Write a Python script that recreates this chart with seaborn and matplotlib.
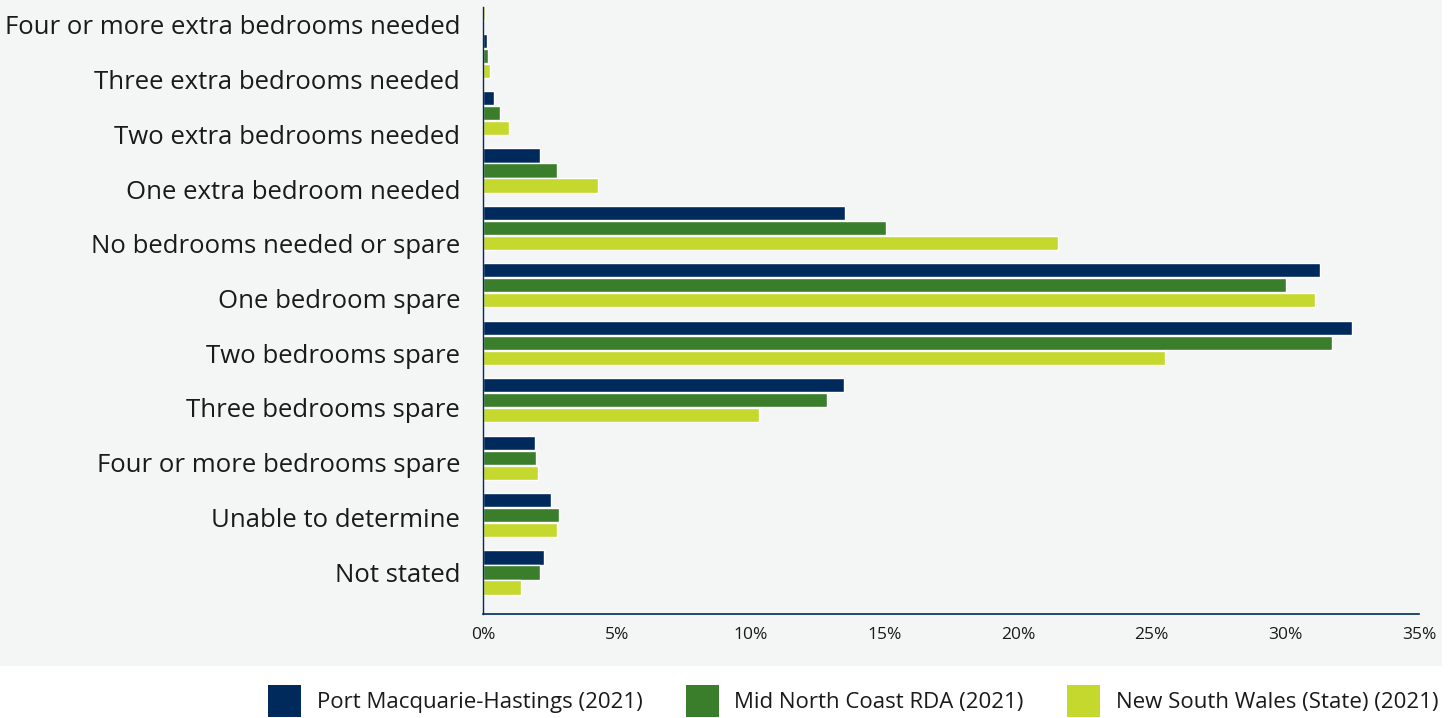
import numpy as np
import pandas as pd
import matplotlib
matplotlib.use("Agg")
import matplotlib.pyplot as plt
import seaborn as sns
from matplotlib.patches import Rectangle, Patch
from matplotlib.ticker import FuncFormatter

categories = [
    "Four or more extra bedrooms needed",
    "Three extra bedrooms needed",
    "Two extra bedrooms needed",
    "One extra bedroom needed",
    "No bedrooms needed or spare",
    "One bedroom spare",
    "Two bedrooms spare",
    "Three bedrooms spare",
    "Four or more bedrooms spare",
    "Unable to determine",
    "Not stated",
]
series = [
    "Port Macquarie-Hastings (2021)",
    "Mid North Coast RDA (2021)",
    "New South Wales (State) (2021)",
]
pmh = [0.05, 0.14, 0.40, 2.12, 13.53, 31.29, 32.48, 13.49, 1.93, 2.53, 2.27]
mnc = [0.07, 0.18, 0.62, 2.76, 15.06, 30.02, 31.74, 12.85, 2.00, 2.83, 2.12]
nsw = [0.09, 0.25, 0.96, 4.29, 21.49, 31.10, 25.49, 10.31, 2.04, 2.76, 1.41]
colors = ["#00295c", "#3a7e2c", "#c5d82e"]
xticks = [0, 5, 10, 15, 20, 25, 30, 35]

df = pd.DataFrame({
    "category": categories * 3,
    "series": [series[0]] * 11 + [series[1]] * 11 + [series[2]] * 11,
    "value": pmh + mnc + nsw,
})

sns.set_theme(style="white")
plt.rcParams["font.family"] = ["Open Sans", "DejaVu Sans"]

W, H = 1450, 718
fig = plt.figure(figsize=(W / 100, H / 100), dpi=100)
fig.patch.set_facecolor("white")
bg = "#f4f6f6"
fig.patches.append(Rectangle((0, 1 - 666 / H), 1442 / W, 666 / H,
                             transform=fig.transFigure, facecolor=bg,
                             edgecolor="none", zorder=-10))

left, right, top, bottom = 483, 1419, 7, 614
ax = fig.add_axes([left / W, 1 - bottom / H, (right - left) / W, (bottom - top) / H])
ax.patch.set_alpha(0)

sns.barplot(data=df, y="category", x="value", hue="series", orient="h",
            palette=colors, order=categories, hue_order=series,
            width=0.784, gap=0.06, saturation=1, ax=ax, legend=False)

# pixel mapping: group centre y_px = c0 + pitch * i
c0, pitch = -1.79, 57.43
ax.set_ylim((bottom - c0) / pitch, (top - c0) / pitch)
label_px = [25 + 54.7 * k for k in range(len(categories))]
ax.set_yticks([(p - c0) / pitch for p in label_px])
ax.set_yticklabels(categories, fontsize=18.5, color="#1a1a1a")
ax.tick_params(axis="y", length=0, pad=16.5)

ax.set_xlim(0, 35)
ax.set_xticks(xticks)
ax.xaxis.set_major_formatter(FuncFormatter(lambda v, p: f"{v:.0f}%"))
ax.tick_params(axis="x", length=6.5, width=1, color="#00295c", labelsize=12.5,
               labelcolor="#1a1a1a", pad=3, direction="out")
ax.set_xlabel("")
ax.set_ylabel("")
for s in ["top", "right"]:
    ax.spines[s].set_visible(False)
ax.spines["bottom"].set_color("#00295c")
ax.spines["bottom"].set_linewidth(1.2)
ax.spines["left"].set_color("#00295c")
ax.spines["left"].set_linewidth(1.0)
ax.grid(False)

handles = [Patch(facecolor=c, edgecolor="none") for c in colors]
fig.legend(handles, series, loc="center left", bbox_to_anchor=(268 / W, 1 - 701 / H),
           ncol=3, frameon=False, fontsize=16, handlelength=1.49, handleheight=1.84,
           handletextpad=0.7, columnspacing=1.95, labelcolor="#1a1a1a",
           borderaxespad=0, borderpad=0)

fig.savefig("out.png", dpi=100, facecolor="white")
